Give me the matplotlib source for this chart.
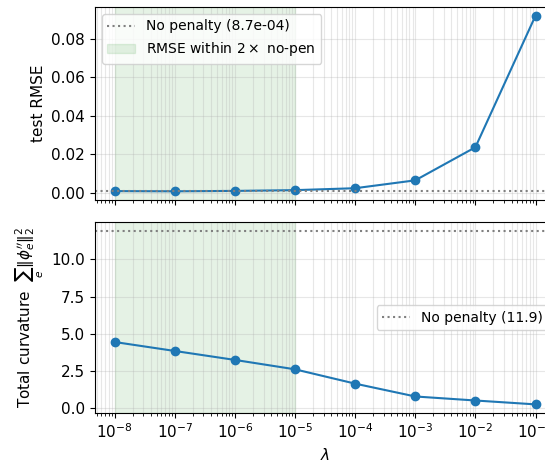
import numpy as np
import matplotlib
matplotlib.use("Agg")
import matplotlib.pyplot as plt
from matplotlib.ticker import MultipleLocator

plt.rcParams["font.size"] = 11

lambdas = [1e-8, 1e-7, 1e-6, 1e-5, 1e-4, 1e-3, 1e-2, 1e-1]
rmse = [0.0009, 0.0008, 0.0010, 0.0014, 0.0024, 0.0065, 0.0237, 0.0921]
curv = [4.45, 3.85, 3.25, 2.62, 1.66, 0.80, 0.53, 0.27]
rmse_nopen = 8.7e-4
curv_nopen = 11.9
ok_lo, ok_hi = 1e-8, 1e-5

fig = plt.figure(figsize=(5.45, 4.61), dpi=100)
ax1 = fig.add_axes([0.174, 0.566, 0.845, 0.419])
ax2 = fig.add_axes([0.174, 0.104, 0.845, 0.414], sharex=ax1)

ax1.plot(lambdas, rmse, "o-", color="C0")
ax1.axhline(rmse_nopen, color="gray", ls=":", lw=1.5, label=f"No penalty ({rmse_nopen:.1e})")
ax1.axvspan(ok_lo, ok_hi, color="green", alpha=0.1, label=r"RMSE within $2\times$ no-pen")
ax1.set_xscale("log")
ax1.set_ylabel("test RMSE")
ax1.yaxis.set_major_locator(MultipleLocator(0.02))
ax1.legend(loc="upper left", fontsize=10)
ax1.grid(True, which="both", alpha=0.3)
plt.setp(ax1.get_xticklabels(), visible=False)

ax2.plot(lambdas, curv, "o-", color="C0")
ax2.axhline(curv_nopen, color="gray", ls=":", lw=1.5, label=f"No penalty ({curv_nopen})")
ax2.axvspan(ok_lo, ok_hi, color="green", alpha=0.1)
ax2.set_xscale("log")
ax2.set_xlabel(r"$\lambda$")
ax2.set_ylabel(r"Total curvature  $\sum_e \|\phi_e''\|_2^2$")
ax2.yaxis.set_major_locator(MultipleLocator(2.5))
ax2.legend(loc="center right", fontsize=10)
ax2.grid(True, which="both", alpha=0.3)

ax1.set_xlim(10 ** -8.33, 10 ** -0.67)
ax2.set_xticks([1e-8, 1e-7, 1e-6, 1e-5, 1e-4, 1e-3, 1e-2, 1e-1])

fig.savefig("out.png", dpi=100)
